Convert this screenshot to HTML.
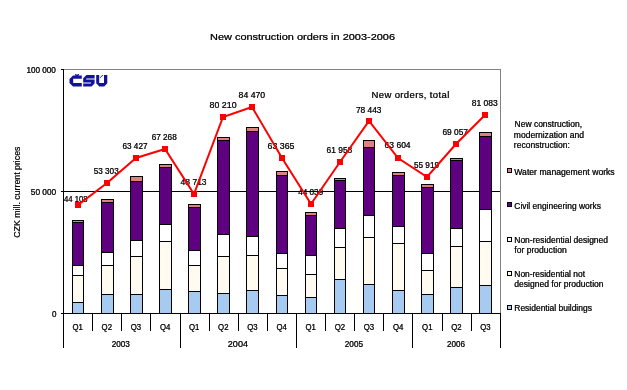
<!DOCTYPE html><html><head><meta charset="utf-8"><style>html,body{margin:0;padding:0;background:#fff;}svg{display:block;}text{font-family:"Liberation Sans",sans-serif;font-size:9.5px;fill:#000;}</style></head><body>
<svg width="627" height="390" viewBox="0 0 627 390">
<rect x="0" y="0" width="627" height="390" fill="#fff"/>
<defs><filter id="crisp" x="0" y="0" width="100%" height="100%" filterUnits="userSpaceOnUse"><feComponentTransfer><feFuncA type="gamma" amplitude="1" exponent="0.55" offset="0"/></feComponentTransfer></filter></defs>
<g shape-rendering="crispEdges">
<rect x="63" y="69" width="438" height="1" fill="#808080"/>
<rect x="500" y="69" width="1" height="244" fill="#808080"/>
<rect x="63" y="191" width="437" height="1" fill="#000"/>
<rect x="72" y="220" width="12" height="93" fill="#000"/>
<rect x="73" y="221" width="10" height="1" fill="#e08080"/>
<rect x="73" y="223" width="10" height="42" fill="#5f0080"/>
<rect x="73" y="266" width="10" height="9" fill="#ffffff"/>
<rect x="73" y="276" width="10" height="26" fill="#fffbf0"/>
<rect x="73" y="303" width="10" height="10" fill="#a6caf0"/>
<rect x="101" y="199" width="13" height="114" fill="#000"/>
<rect x="102" y="200" width="11" height="2" fill="#e08080"/>
<rect x="102" y="203" width="11" height="49" fill="#5f0080"/>
<rect x="102" y="253" width="11" height="12" fill="#ffffff"/>
<rect x="102" y="266" width="11" height="28" fill="#fffbf0"/>
<rect x="102" y="295" width="11" height="18" fill="#a6caf0"/>
<rect x="130" y="176" width="13" height="137" fill="#000"/>
<rect x="131" y="177" width="11" height="4" fill="#e08080"/>
<rect x="131" y="182" width="11" height="58" fill="#5f0080"/>
<rect x="131" y="241" width="11" height="15" fill="#ffffff"/>
<rect x="131" y="257" width="11" height="37" fill="#fffbf0"/>
<rect x="131" y="295" width="11" height="18" fill="#a6caf0"/>
<rect x="159" y="164" width="13" height="149" fill="#000"/>
<rect x="160" y="165" width="11" height="2" fill="#e08080"/>
<rect x="160" y="168" width="11" height="56" fill="#5f0080"/>
<rect x="160" y="225" width="11" height="16" fill="#ffffff"/>
<rect x="160" y="242" width="11" height="47" fill="#fffbf0"/>
<rect x="160" y="290" width="11" height="23" fill="#a6caf0"/>
<rect x="188" y="204" width="13" height="109" fill="#000"/>
<rect x="189" y="205" width="11" height="2" fill="#e08080"/>
<rect x="189" y="208" width="11" height="42" fill="#5f0080"/>
<rect x="189" y="251" width="11" height="14" fill="#ffffff"/>
<rect x="189" y="266" width="11" height="25" fill="#fffbf0"/>
<rect x="189" y="292" width="11" height="21" fill="#a6caf0"/>
<rect x="217" y="137" width="13" height="176" fill="#000"/>
<rect x="218" y="138" width="11" height="2" fill="#e08080"/>
<rect x="218" y="141" width="11" height="93" fill="#5f0080"/>
<rect x="218" y="235" width="11" height="21" fill="#ffffff"/>
<rect x="218" y="257" width="11" height="36" fill="#fffbf0"/>
<rect x="218" y="294" width="11" height="19" fill="#a6caf0"/>
<rect x="246" y="127" width="13" height="186" fill="#000"/>
<rect x="247" y="128" width="11" height="3" fill="#e08080"/>
<rect x="247" y="132" width="11" height="104" fill="#5f0080"/>
<rect x="247" y="237" width="11" height="18" fill="#ffffff"/>
<rect x="247" y="256" width="11" height="34" fill="#fffbf0"/>
<rect x="247" y="291" width="11" height="22" fill="#a6caf0"/>
<rect x="276" y="171" width="12" height="142" fill="#000"/>
<rect x="277" y="172" width="10" height="3" fill="#e08080"/>
<rect x="277" y="176" width="10" height="77" fill="#5f0080"/>
<rect x="277" y="254" width="10" height="14" fill="#ffffff"/>
<rect x="277" y="269" width="10" height="26" fill="#fffbf0"/>
<rect x="277" y="296" width="10" height="17" fill="#a6caf0"/>
<rect x="305" y="212" width="12" height="101" fill="#000"/>
<rect x="306" y="213" width="10" height="2" fill="#e08080"/>
<rect x="306" y="216" width="10" height="39" fill="#5f0080"/>
<rect x="306" y="256" width="10" height="18" fill="#ffffff"/>
<rect x="306" y="275" width="10" height="22" fill="#fffbf0"/>
<rect x="306" y="298" width="10" height="15" fill="#a6caf0"/>
<rect x="334" y="178" width="12" height="135" fill="#000"/>
<rect x="335" y="179" width="10" height="1" fill="#e08080"/>
<rect x="335" y="181" width="10" height="47" fill="#5f0080"/>
<rect x="335" y="229" width="10" height="18" fill="#ffffff"/>
<rect x="335" y="248" width="10" height="31" fill="#fffbf0"/>
<rect x="335" y="280" width="10" height="33" fill="#a6caf0"/>
<rect x="363" y="140" width="12" height="173" fill="#000"/>
<rect x="364" y="141" width="10" height="6" fill="#e08080"/>
<rect x="364" y="148" width="10" height="67" fill="#5f0080"/>
<rect x="364" y="216" width="10" height="21" fill="#ffffff"/>
<rect x="364" y="238" width="10" height="46" fill="#fffbf0"/>
<rect x="364" y="285" width="10" height="28" fill="#a6caf0"/>
<rect x="392" y="172" width="13" height="141" fill="#000"/>
<rect x="393" y="173" width="11" height="2" fill="#e08080"/>
<rect x="393" y="176" width="11" height="50" fill="#5f0080"/>
<rect x="393" y="227" width="11" height="16" fill="#ffffff"/>
<rect x="393" y="244" width="11" height="46" fill="#fffbf0"/>
<rect x="393" y="291" width="11" height="22" fill="#a6caf0"/>
<rect x="421" y="184" width="13" height="129" fill="#000"/>
<rect x="422" y="185" width="11" height="2" fill="#e08080"/>
<rect x="422" y="188" width="11" height="65" fill="#5f0080"/>
<rect x="422" y="254" width="11" height="16" fill="#ffffff"/>
<rect x="422" y="271" width="11" height="23" fill="#fffbf0"/>
<rect x="422" y="295" width="11" height="18" fill="#a6caf0"/>
<rect x="450" y="158" width="13" height="155" fill="#000"/>
<rect x="451" y="159" width="11" height="1" fill="#e08080"/>
<rect x="451" y="161" width="11" height="67" fill="#5f0080"/>
<rect x="451" y="229" width="11" height="17" fill="#ffffff"/>
<rect x="451" y="247" width="11" height="40" fill="#fffbf0"/>
<rect x="451" y="288" width="11" height="25" fill="#a6caf0"/>
<rect x="479" y="132" width="13" height="181" fill="#000"/>
<rect x="480" y="133" width="11" height="3" fill="#e08080"/>
<rect x="480" y="137" width="11" height="72" fill="#5f0080"/>
<rect x="480" y="210" width="11" height="31" fill="#ffffff"/>
<rect x="480" y="242" width="11" height="43" fill="#fffbf0"/>
<rect x="480" y="286" width="11" height="27" fill="#a6caf0"/>
<rect x="63" y="69" width="1" height="279" fill="#000"/>
<rect x="61" y="313" width="440" height="1" fill="#000"/>
<rect x="61" y="69" width="2" height="1" fill="#000"/>
<rect x="61" y="191" width="2" height="1" fill="#000"/>
<rect x="92" y="313" width="1" height="18" fill="#000"/>
<rect x="121" y="313" width="1" height="18" fill="#000"/>
<rect x="150" y="313" width="1" height="18" fill="#000"/>
<rect x="180" y="313" width="1" height="35" fill="#000"/>
<rect x="209" y="313" width="1" height="18" fill="#000"/>
<rect x="238" y="313" width="1" height="18" fill="#000"/>
<rect x="267" y="313" width="1" height="18" fill="#000"/>
<rect x="296" y="313" width="1" height="35" fill="#000"/>
<rect x="325" y="313" width="1" height="18" fill="#000"/>
<rect x="354" y="313" width="1" height="18" fill="#000"/>
<rect x="383" y="313" width="1" height="18" fill="#000"/>
<rect x="412" y="313" width="1" height="35" fill="#000"/>
<rect x="442" y="313" width="1" height="18" fill="#000"/>
<rect x="471" y="313" width="1" height="18" fill="#000"/>
<rect x="500" y="313" width="1" height="35" fill="#000"/>
</g>
<g filter="url(#crisp)">
<text x="64" y="202" textLength="23.5" lengthAdjust="spacingAndGlyphs">44 108</text>
<text x="93.7" y="174" textLength="25" lengthAdjust="spacingAndGlyphs">53 303</text>
<text x="122.5" y="149" textLength="25" lengthAdjust="spacingAndGlyphs">63 427</text>
<text x="151.7" y="140" textLength="25" lengthAdjust="spacingAndGlyphs">67 268</text>
<text x="180.6" y="184.5" textLength="26" lengthAdjust="spacingAndGlyphs">48 713</text>
<text x="209.6" y="107.7" textLength="27" lengthAdjust="spacingAndGlyphs">80 210</text>
<text x="238.6" y="97.7" textLength="26.5" lengthAdjust="spacingAndGlyphs">84 470</text>
<text x="267.5" y="149.2" textLength="27" lengthAdjust="spacingAndGlyphs">63 365</text>
<text x="298.2" y="195" textLength="25" lengthAdjust="spacingAndGlyphs">44 039</text>
<text x="326.6" y="152.7" textLength="25.6" lengthAdjust="spacingAndGlyphs">61 958</text>
<text x="355.9" y="112.8" textLength="25.6" lengthAdjust="spacingAndGlyphs">78 443</text>
<text x="384.6" y="148.4" textLength="26" lengthAdjust="spacingAndGlyphs">63 604</text>
<text x="414" y="167.7" textLength="25" lengthAdjust="spacingAndGlyphs">55 919</text>
<text x="442.4" y="134.6" textLength="25.6" lengthAdjust="spacingAndGlyphs">69 057</text>
<text x="471.7" y="106" textLength="26" lengthAdjust="spacingAndGlyphs">81 083</text>
</g>
<polyline points="78,205 107,183 136,158 165,149 194,194 223,117 252,107 282,158 311,204 340,162 369,121 398,158 427,177 456,144 485,115" fill="none" stroke="#ff0000" stroke-width="2"/>
<g shape-rendering="crispEdges">
<rect x="75" y="202" width="6" height="6" fill="#ff0000"/>
<rect x="104" y="180" width="6" height="6" fill="#ff0000"/>
<rect x="133" y="155" width="6" height="6" fill="#ff0000"/>
<rect x="162" y="146" width="6" height="6" fill="#ff0000"/>
<rect x="191" y="191" width="6" height="6" fill="#ff0000"/>
<rect x="220" y="114" width="6" height="6" fill="#ff0000"/>
<rect x="249" y="104" width="6" height="6" fill="#ff0000"/>
<rect x="279" y="155" width="6" height="6" fill="#ff0000"/>
<rect x="308" y="201" width="6" height="6" fill="#ff0000"/>
<rect x="337" y="159" width="6" height="6" fill="#ff0000"/>
<rect x="366" y="118" width="6" height="6" fill="#ff0000"/>
<rect x="395" y="155" width="6" height="6" fill="#ff0000"/>
<rect x="424" y="174" width="6" height="6" fill="#ff0000"/>
<rect x="453" y="141" width="6" height="6" fill="#ff0000"/>
<rect x="482" y="112" width="6" height="6" fill="#ff0000"/>
</g>
<g filter="url(#crisp)">
<text x="210" y="40" textLength="185" lengthAdjust="spacingAndGlyphs">New construction orders in 2003-2006</text>
<text x="26.4" y="73" textLength="29.5" lengthAdjust="spacingAndGlyphs">100 000</text>
<text x="30.8" y="195" textLength="25.4" lengthAdjust="spacingAndGlyphs">50 000</text>
<text x="52" y="317" textLength="4.5" lengthAdjust="spacingAndGlyphs">0</text>
<text x="0" y="0" transform="translate(20.2,237.8) rotate(-90)" style="font-size:9.8px" textLength="91.3" lengthAdjust="spacingAndGlyphs">CZK mill. current prices</text>
<text x="72.5" y="330" style="font-size:9.5px" textLength="10.4" lengthAdjust="spacingAndGlyphs">Q1</text>
<text x="101.6" y="330" style="font-size:9.5px" textLength="10.4" lengthAdjust="spacingAndGlyphs">Q2</text>
<text x="130.7" y="330" style="font-size:9.5px" textLength="10.4" lengthAdjust="spacingAndGlyphs">Q3</text>
<text x="159.9" y="330" style="font-size:9.5px" textLength="10.4" lengthAdjust="spacingAndGlyphs">Q4</text>
<text x="189.0" y="330" style="font-size:9.5px" textLength="10.4" lengthAdjust="spacingAndGlyphs">Q1</text>
<text x="218.1" y="330" style="font-size:9.5px" textLength="10.4" lengthAdjust="spacingAndGlyphs">Q2</text>
<text x="247.3" y="330" style="font-size:9.5px" textLength="10.4" lengthAdjust="spacingAndGlyphs">Q3</text>
<text x="276.4" y="330" style="font-size:9.5px" textLength="10.4" lengthAdjust="spacingAndGlyphs">Q4</text>
<text x="305.5" y="330" style="font-size:9.5px" textLength="10.4" lengthAdjust="spacingAndGlyphs">Q1</text>
<text x="334.7" y="330" style="font-size:9.5px" textLength="10.4" lengthAdjust="spacingAndGlyphs">Q2</text>
<text x="363.8" y="330" style="font-size:9.5px" textLength="10.4" lengthAdjust="spacingAndGlyphs">Q3</text>
<text x="392.9" y="330" style="font-size:9.5px" textLength="10.4" lengthAdjust="spacingAndGlyphs">Q4</text>
<text x="422.1" y="330" style="font-size:9.5px" textLength="10.4" lengthAdjust="spacingAndGlyphs">Q1</text>
<text x="451.2" y="330" style="font-size:9.5px" textLength="10.4" lengthAdjust="spacingAndGlyphs">Q2</text>
<text x="480.3" y="330" style="font-size:9.5px" textLength="10.4" lengthAdjust="spacingAndGlyphs">Q3</text>
<text x="111.7" y="347" textLength="18.2" lengthAdjust="spacingAndGlyphs">2003</text>
<text x="227.8" y="347" textLength="20.2" lengthAdjust="spacingAndGlyphs">2004</text>
<text x="344.8" y="347" textLength="18.2" lengthAdjust="spacingAndGlyphs">2005</text>
<text x="447" y="347" textLength="18" lengthAdjust="spacingAndGlyphs">2006</text>
<text x="371.5" y="98.2" textLength="77.8" lengthAdjust="spacing">New orders, total</text>
<text x="514.6" y="127.2" textLength="67.4" lengthAdjust="spacingAndGlyphs">New construction,</text>
<text x="513.8" y="138" textLength="70.2" lengthAdjust="spacingAndGlyphs">modernization and</text>
<text x="513.8" y="148" textLength="56" lengthAdjust="spacingAndGlyphs">reconstruction:</text>
<g shape-rendering="crispEdges">
<rect x="507.5" y="168.5" width="4" height="4" fill="#e08080" stroke="#000" stroke-width="1"/>
<rect x="507.5" y="202.5" width="4" height="4" fill="#5f0080" stroke="#000" stroke-width="1"/>
<rect x="507.5" y="237.0" width="4" height="4" fill="#ffffff" stroke="#000" stroke-width="1"/>
<rect x="507.5" y="271.5" width="4" height="4" fill="#fffbf0" stroke="#000" stroke-width="1"/>
<rect x="507.5" y="305.0" width="4" height="4" fill="#a6caf0" stroke="#000" stroke-width="1"/>
</g>
<text x="514.3" y="175.2" textLength="100.4" lengthAdjust="spacingAndGlyphs">Water management works</text>
<text x="514.3" y="209.2" textLength="86.6" lengthAdjust="spacingAndGlyphs">Civil engineering works</text>
<text x="514.3" y="243.4" textLength="93.7" lengthAdjust="spacingAndGlyphs">Non-residential designed</text>
<text x="514.3" y="253.1" textLength="52.4" lengthAdjust="spacingAndGlyphs">for production</text>
<text x="514.3" y="277.3" textLength="70.7" lengthAdjust="spacingAndGlyphs">Non-residential not</text>
<text x="514.3" y="286.6" textLength="89.3" lengthAdjust="spacingAndGlyphs">designed for production</text>
<text x="514.3" y="310.8" textLength="77.6" lengthAdjust="spacingAndGlyphs">Residential buildings</text>
</g>
<g fill="#12129e">
<path d="M73 75.6 H81.8 V78.7 H73.2 V83.1 H81.8 V86.5 H73 L69.5 83 V79.1 Z"/>
<path d="M74.8 74 H76 L77 75 L78 74 H79.2 L78.2 76 H75.8 Z"/>
<path d="M86.5 75 H94.6 V78.6 H86.2 V79.4 H94.6 V83.4 L91.5 86.5 H83.2 V83.4 H91 V82.5 H83.2 V78.2 Z"/>
<path d="M96.2 75 H99.2 V83.1 H104 V75 H107.3 V83.3 L104.2 86.5 H99.3 L96.2 83.3 Z"/>
<path d="M99.7 77.8 L102.3 75 H103.3 L100.7 77.8 Z"/>
</g>
</svg></body></html>
